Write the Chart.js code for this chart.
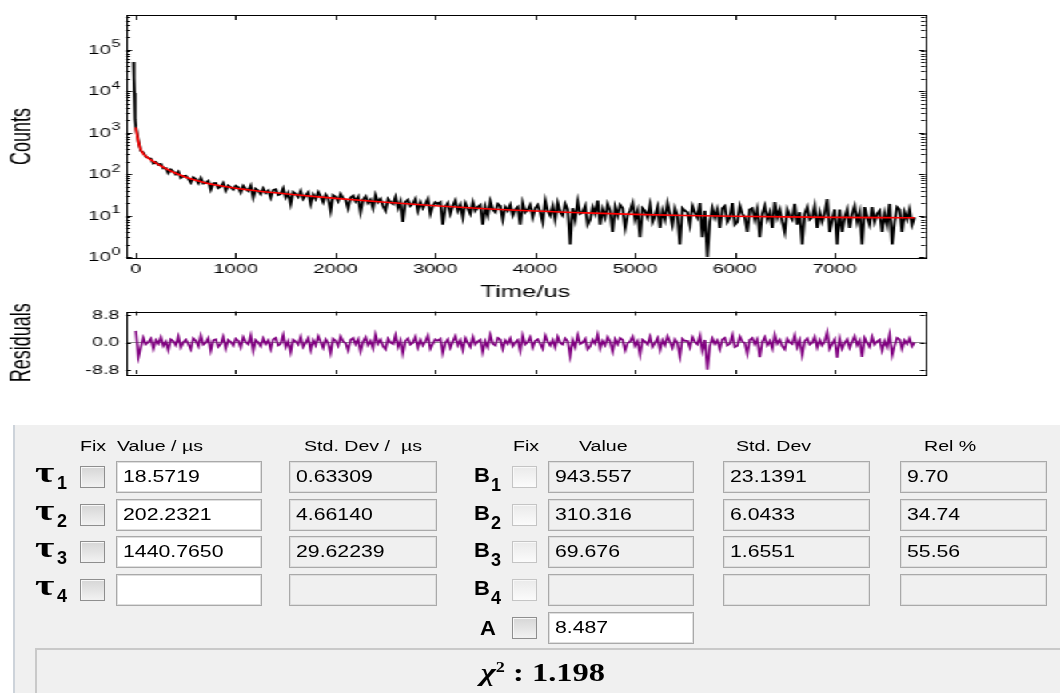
<!DOCTYPE html>
<html>
<head>
<meta charset="utf-8">
<title>Luminescence decay fit</title>
<script src="https://cdn.jsdelivr.net/npm/chart.js@4.4.1/dist/chart.umd.min.js"></script>
<style>
  html, body { margin: 0; padding: 0; }
  body {
    width: 1060px; height: 693px; position: relative; overflow: hidden;
    background: #fff; color: #000;
    font-family: 'Liberation Sans', Arial, sans-serif;
  }
  /* plots are laid out narrow and stretched sideways */
  #plots { position: absolute; left: 0; top: 0; width: 663px; height: 392px;
           transform: scaleX(1.5988); transform-origin: 0 0; }
  #plots canvas { position: absolute; left: 0; }
  #decayChart { top: 0; }
  #residualChart { top: 300px; }

  #fitPanel { position: absolute; left: 13px; top: 425px; width: 1060px; height: 280px;
              background: #f0f0f0; border-left: 2px solid #cdd3da; }
  #fitTable { position: absolute; left: 0; top: 0; width: 1060px; height: 693px; }
  .lbl { position: absolute; white-space: nowrap; }
  .wide { display: inline-block; transform-origin: 0 50%; }
  .hdr { font-size: 14px; line-height: 16px; }
  .hdr .wide { transform: scaleX(1.4); }
  .box { position: absolute; height: 32px; box-sizing: border-box; border: 1px solid #a9a9a9;
         box-shadow: inset 1px 1px 0 #dedede, inset -1px -1px 0 #dedede;
         background: #f0f0f0; font-size: 17px; line-height: 30px; padding-left: 6px; white-space: nowrap; }
  .box.edit { background: #fff; }
  .box .wide { transform: scaleX(1.25); }
  .chk { position: absolute; width: 25px; height: 22px; box-sizing: border-box;
         border: 1px solid #8e8e8e; background: linear-gradient(#d6d6d6, #f2f2f2);
         box-shadow: inset 1px 1px 0 #f8f8f8; }
  .chk.light { border-color: #c4c4c4; background: linear-gradient(#eaeaea, #fbfbfb); }
  .tau { font-family: 'Liberation Serif', 'DejaVu Serif', serif; font-weight: bold;
         font-size: 30px; line-height: 30px; }
  .tau .wide { transform: scaleX(1.4); }
  .sub { font-weight: bold; font-size: 18px; line-height: 18px; }
  .amp { font-weight: bold; font-size: 20px; line-height: 20px; }
  .amp .wide { transform: scaleX(1.1); }
  #chiBox { position: absolute; left: 35px; top: 648px; width: 1040px; height: 60px; box-sizing: border-box;
            border: 2px solid #c9c9c9; border-right: none; border-bottom: none; background: #f0f0f0; }
  #chiText { position: absolute; left: 35px; top: 653px; width: 1016px; text-align: center;
             font-family: 'Liberation Serif', 'DejaVu Serif', serif; font-weight: bold;
             font-size: 25px; line-height: 30px; }
  #chiText .wide { transform: scaleX(1.3); transform-origin: 50% 50%; }
</style>
</head>
<body>
<div id="plots">
  <canvas id="decayChart" width="663" height="302"></canvas>
  <canvas id="residualChart" width="663" height="90"></canvas>
</div>
<div id="fitPanel"></div>
<div id="fitTable"></div>
<div id="chiBox"></div>
<div id="chiText"></div>

<script>
// ---- measured decay (counts per 25 us channel, first channel at t = 0) ----
const channelWidth = 25;
const riseTimes = [-25, -20, -15, -10, -5];
const riseCounts = [50000, 21000, 9000, 4200, 2100];
const decayCounts = [
  1365, 614, 361, 328, 260, 244, 234, 180, 193, 167,
  175, 136, 139, 105, 128, 115, 98, 114, 81, 89,
  91, 77, 62, 83, 75, 60, 80, 59, 61, 68,
  42, 60, 61, 46, 50, 61, 40, 53, 48, 42,
  52,
  48, 36, 52, 44, 39, 52, 27, 44, 40, 33,
  45, 35, 40, 27, 41, 43, 31, 33, 45, 27,
  35, 19, 37, 33, 28, 39, 25, 30, 36, 19,
  32, 25, 37, 29, 21, 32, 26, 13, 31, 28,
  22, 33, 26, 24, 15, 27, 30, 22, 28, 12,
  24, 29, 20, 24, 15, 31, 21, 25, 17, 13,
  25, 21, 19, 28, 15, 22, 7, 21, 24, 17,
  19, 25, 13, 21, 15, 19, 25, 11, 17, 21,
  19, 21, 6, 16, 20, 11, 17, 23, 13, 18,
  9, 20, 15, 11, 21, 13, 16, 18, 6, 16,
  10, 22, 14, 12, 19, 17, 8, 16, 13, 18,
  10, 14, 16, 6, 20, 12, 14, 18, 9, 15,
  18, 12, 7, 23, 13, 10, 17, 8, 20, 12,
  10, 19, 14, 2, 15, 8, 22, 11, 12, 17,
  6, 8, 16, 11, 23, 6, 14, 9, 19, 13,
  4, 16, 10, 18, 15, 5, 10, 13, 20, 8,
  13, 3, 15, 13, 9, 18, 7, 10, 16, 5,
  13, 8, 20, 11, 6, 15, 10, 2, 15, 13,
  12, 6, 17, 12, 9, 20, 3, 13, 1, 7,
  15, 9, 14, 5, 15, 17, 7, 9, 20, 6,
  7, 17, 11, 9, 4, 14, 15, 8, 14, 3,
  11, 17, 8, 12, 5, 21, 9, 14, 7, 4,
  14, 10, 8, 19, 6, 12, 2, 11, 16, 8,
  9, 17, 5, 12, 7, 11, 25, 4, 8, 14,
  2, 14, 4, 9, 14, 5, 11, 17, 7, 12,
  2, 16, 9, 6, 16, 7, 11, 13, 4, 11,
  6, 19, 2, 7, 16, 14, 4, 12, 8, 14,
  6, 9
];

// ---- tri-exponential fit curve ----
const fitTimes = [0, 5, 10, 15, 20, 30, 40, 50, 60, 80, 100, 125, 150, 200, 250, 300, 400, 500, 600, 700,
  800, 1000, 1200, 1400, 1600, 1800, 2000, 2500, 3000, 3500, 4000, 4500, 5000, 5500, 6000, 6500, 7000, 7500, 7800];
const fitCounts = [1332, 1101.5, 923.8, 786.3, 679.7, 531.8, 440.4, 382.0, 343.2, 296.0, 267.1, 240.7, 219.4,
  184.6, 157.2, 135.5, 104.2, 83.9, 70.4, 61.1, 54.4, 45.5, 39.6, 35.2, 31.6, 28.5, 25.9, 20.8, 17.2, 14.6,
  12.8, 11.6, 10.66, 10.02, 9.57, 9.25, 9.03, 8.87, 8.8];

// ---- weighted residuals, same channels as decayCounts ----
const residuals = [
  3.8, -4.6, -1.4, 1.6, -0.5, 0.3, 1.3, -1.9, 0.8, -0.3,
  1.8, -1.0, 0.4, -2.4, 1.1, 0.5, -0.8, 2.0, -1.5, 0.1,
  1.0, -0.4, -2.1, 1.4, 0.6, -1.1, 2.3, -0.6, 0.0, 1.5,
  -2.5, 0.8, 1.1, -1.3, -0.4, 1.9, -1.8, 0.9, 0.3, -0.9,
  1.3,
  0.6, -1.5, 1.8, 0.3, -0.5, 2.3, -2.6, 0.9, 0.1, -1.1,
  1.4, -0.4, 0.8, -2.0, 1.1, 1.6, -0.9, -0.3, 2.5, -1.4,
  0.5, -3.0, 1.0, 0.4, -0.6, 1.9, -1.3, 0.0, 1.5, -2.3,
  0.8, -0.8, 2.1, 0.3, -1.6, 1.1, -0.1, -3.3, 1.3, 0.6,
  -1.0, 2.0, 0.4, -0.1, -2.4, 0.9, 1.5, -0.5, 1.1, -2.8,
  0.3, 1.8, -0.8, 0.6, -1.8, 2.6, -0.3, 1.0, -1.1, -2.1,
  1.3, 0.1, -0.4, 2.4, -1.4, 0.8, -3.5, 0.5, 1.4, -0.6,
  0.0, 1.9, -1.5, 0.9, -0.9, 0.4, 2.3, -1.9, -0.3, 1.1,
  0.6, 1.3, -3.3, -0.1, 1.1, -1.6, 0.3, 2.1, -0.8, 0.8,
  -2.3, 1.5, 0.0, -1.3, 1.9, -0.6, 0.4, 1.0, -3.0, 0.5,
  -1.4, 2.5, -0.3, -0.9, 1.6, 1.1, -2.0, 0.8, -0.4, 1.4,
  -1.1, 0.1, 0.9, -2.6, 2.3, -0.5, 0.3, 1.8, -1.5, 0.6,
  1.1, -0.3, -1.9, 2.3, 0.4, -0.9, 0.9, -1.5, 1.9, 0.0,
  -0.6, 1.4, 0.5, -4.2, 0.8, -1.4, 2.4, -0.4, 0.1, 1.3,
  -2.1, -1.1, 1.0, -0.3, 2.6, -1.8, 0.6, -0.8, 1.8, 0.3,
  -2.8, 1.1, -0.5, 1.5, 0.9, -2.4, -0.1, 0.4, 2.0, -1.0,
  0.5, -3.8, 1.0, 0.4, -0.6, 1.9, -1.3, 0.0, 1.5, -2.3,
  0.8, -0.8, 2.1, 0.3, -1.6, 1.1, -0.1, -4.3, 1.3, 0.6,
  0.6, -1.5, 1.8, 0.3, -0.5, 2.3, -2.6, 0.9, -8.6, -1.1,
  1.4, -0.4, 0.8, -2.0, 1.1, 1.6, -0.9, -0.3, 2.5, -1.4,
  -1.0, 2.0, 0.4, -0.1, -3.6, 0.9, 1.5, -0.5, 1.1, -4.6,
  0.3, 1.8, -0.8, 0.6, -1.8, 2.6, -0.3, 1.0, -1.1, -2.1,
  1.3, 0.1, -0.4, 2.4, -1.4, 0.8, -3.9, 0.5, 1.4, -0.6,
  0.0, 1.9, -1.5, 0.9, -0.9, 0.4, 3.4, -1.9, -0.3, 1.1,
  -4.8, 1.3, -1.9, -0.1, 1.1, -1.6, 0.3, 2.1, -0.8, 0.8,
  -4.5, 1.5, 0.0, -1.3, 1.9, -0.6, 0.4, 1.0, -2.5, 0.5,
  -1.4, 2.5, -4.0, -0.9, 1.6, 1.1, -2.0, 0.8, -0.4, 1.4,
  -1.1, 0.1
];

// ---- axis ticks ----
const timeTicks = [0, 1000, 2000, 3000, 4000, 5000, 6000, 7000];
const countDecades = [1, 10, 100, 1000, 10000, 100000];
const residualTicks = [-8.8, 0, 8.8];

// ---- fit parameters ----
const tauValues = ['18.5719', '202.2321', '1440.7650', ''];
const tauStdDev = ['0.63309', '4.66140', '29.62239', ''];
const ampValues = ['943.557', '310.316', '69.676', ''];
const ampStdDev = ['23.1391', '6.0433', '1.6551', ''];
const relPercent = ['9.70', '34.74', '55.56', ''];
const offsetValue = '8.487';
const chiSquare = '1.198';

// ---------------------------------------------------------------------------
const FONT = "'Liberation Sans', Arial, sans-serif";
const X_MIN = -100, X_MAX = 7905;
const Y_MIN = 0.946, Y_MAX = 6.8e5;
const AXIS_W = 78.8;          // left axis band (canvas px)
const PAD_R = 663 - 578.56;   // space right of the plot frame

// inward tick marks plus the box around the plot area
const axisFrame = {
  id: 'axisFrame',
  afterDatasetsDraw(chart, args, opts) {
    const { ctx, chartArea: a, scales } = chart;
    ctx.save();
    ctx.strokeStyle = '#000';
    ctx.lineWidth = 1;
    ctx.beginPath();
    opts.xTicks.forEach(v => {
      const px = Math.round(scales.x.getPixelForValue(v)) + 0.5;
      ctx.moveTo(px, a.bottom); ctx.lineTo(px, a.bottom - opts.xLen);
      ctx.moveTo(px, a.top); ctx.lineTo(px, a.top + opts.xLen);
    });
    opts.yTicks.forEach(t => {
      const py = Math.round(scales.y.getPixelForValue(t.value)) + 0.5;
      ctx.moveTo(a.left, py); ctx.lineTo(a.left + t.len, py);
      ctx.moveTo(a.right, py); ctx.lineTo(a.right - t.len, py);
    });
    ctx.stroke();
    ctx.strokeRect(Math.round(a.left) + 0.5, Math.round(a.top) + 0.5,
                   Math.round(a.right - a.left), Math.round(a.bottom - a.top));
    ctx.restore();
  }
};

// "10" with a raised exponent beside each decade of the count axis
const powerLabels = {
  id: 'powerLabels',
  afterDraw(chart) {
    const { ctx, chartArea: a, scales } = chart;
    ctx.save();
    ctx.fillStyle = '#000';
    ctx.textAlign = 'right';
    ctx.textBaseline = 'middle';
    countDecades.forEach(v => {
      const y = scales.y.getPixelForValue(v);
      const exp = String(Math.round(Math.log10(v)));
      ctx.font = '10px ' + FONT;
      const ew = ctx.measureText(exp).width;
      const right = a.left - 3.5;
      ctx.fillText(exp, right, y - 5);
      ctx.font = '13px ' + FONT;
      ctx.fillText('10', right - ew - 0.3, y + 0.5);
    });
    ctx.restore();
  }
};

const logTickMarks = [];
countDecades.forEach(d => {
  for (let m = 1; m <= 9; m++) {
    if (m * d <= Y_MAX) logTickMarks.push({ value: m * d, len: m === 1 ? 3.8 : 2.4 });
  }
});

const channelTimes = decayCounts.map((c, i) => i * channelWidth);
const decayPoints = riseTimes.map((t, i) => ({ x: t, y: riseCounts[i] }))
  .concat(channelTimes.map((t, i) => ({ x: t, y: decayCounts[i] })));
const fitPoints = fitTimes.map((t, i) => ({ x: t, y: fitCounts[i] }));
const residualPoints = channelTimes.map((t, i) => ({ x: t, y: residuals[i] }));

new Chart(document.getElementById('decayChart'), {
  type: 'scatter',
  data: {
    datasets: [{
      label: 'Fit',
      data: fitPoints,
      showLine: true,
      borderColor: '#ff0000',
      borderWidth: 1.6,
      pointRadius: 0,
      cubicInterpolationMode: 'monotone'
    }, {
      label: 'Counts',
      data: decayPoints,
      showLine: true,
      borderColor: '#000',
      borderWidth: 1.8,
      pointRadius: 0
    }]
  },
  options: {
    responsive: false,
    animation: false,
    devicePixelRatio: 1,
    layout: { padding: { left: 0, right: PAD_R, top: 15, bottom: 0 } },
    plugins: {
      legend: { display: false },
      tooltip: { enabled: false },
      axisFrame: { xTicks: timeTicks, xLen: 5, yTicks: logTickMarks }
    },
    scales: {
      x: {
        type: 'linear',
        min: X_MIN,
        max: X_MAX,
        grid: { display: false, drawTicks: false },
        border: { display: false },
        afterBuildTicks: s => { s.ticks = timeTicks.map(v => ({ value: v })); },
        afterFit: s => { s.height = 44; },
        ticks: {
          color: '#000', font: { family: FONT, size: 12.5 }, padding: 4, maxRotation: 0, autoSkip: false,
          callback: v => String(v)
        },
        title: { display: true, text: 'Time/us', color: '#000', font: { family: FONT, size: 16 }, padding: 0 }
      },
      y: {
        type: 'logarithmic',
        min: Y_MIN,
        max: Y_MAX,
        grid: { display: false, drawTicks: false },
        border: { display: false },
        afterBuildTicks: s => { s.ticks = countDecades.map(v => ({ value: v })); },
        afterFit: s => { s.width = AXIS_W; },
        ticks: { display: false },
        title: { display: true, text: 'Counts', color: '#000', font: { family: FONT, size: 18 }, padding: { top: 3, bottom: 0 } }
      }
    }
  },
  plugins: [axisFrame, powerLabels]
});

new Chart(document.getElementById('residualChart'), {
  type: 'scatter',
  data: {
    datasets: [{
      label: 'Residuals',
      data: residualPoints,
      showLine: true,
      borderColor: '#800080',
      borderWidth: 1.6,
      pointRadius: 0
    }]
  },
  options: {
    responsive: false,
    animation: false,
    devicePixelRatio: 1,
    layout: { padding: { left: 0, right: PAD_R, top: 7, bottom: 0 } },
    plugins: {
      legend: { display: false },
      tooltip: { enabled: false },
      axisFrame: { xTicks: timeTicks, xLen: 4, yTicks: residualTicks.map(v => ({ value: v, len: 3.1 })) }
    },
    scales: {
      x: {
        type: 'linear',
        min: X_MIN,
        max: X_MAX,
        grid: { display: false, drawTicks: false },
        border: { display: false },
        ticks: { display: false },
        afterFit: s => { s.height = 16; }
      },
      y: {
        type: 'linear',
        min: -10,
        max: 10,
        border: { display: false },
        grid: {
          drawTicks: false,
          color: c => (c.tick && c.tick.value === 0 ? '#8a8a8a' : 'rgba(0,0,0,0)')
        },
        afterBuildTicks: s => { s.ticks = residualTicks.map(v => ({ value: v })); },
        afterFit: s => { s.width = AXIS_W; },
        ticks: {
          color: '#000',
          font: { family: FONT, size: 12.5 },
          padding: 4,
          autoSkip: false,
          callback: v => v.toFixed(1)
        },
        title: { display: true, text: 'Residuals', color: '#000', font: { family: FONT, size: 18 }, padding: { top: 3, bottom: 0 } }
      }
    }
  },
  plugins: [axisFrame]
});

// ---- parameter sheet ----
const sheet = document.getElementById('fitTable');
function place(cls, x, y, w, html) {
  const el = document.createElement('div');
  el.className = cls;
  el.style.left = x + 'px';
  el.style.top = y + 'px';
  if (w) el.style.width = w + 'px';
  if (html !== undefined) el.innerHTML = html;
  sheet.appendChild(el);
  return el;
}
const wide = s => '<span class="wide">' + s + '</span>';

const rowTops = [461, 499, 536, 574];
const offsetTop = 612;

place('lbl hdr', 80, 438, 0, wide('Fix'));
place('lbl hdr', 117, 438, 0, wide('Value / \u00b5s'));
place('lbl hdr', 304, 438, 0, wide('Std. Dev / &nbsp;\u00b5s'));
place('lbl hdr', 513, 438, 0, wide('Fix'));
place('lbl hdr', 579, 438, 0, wide('Value'));
place('lbl hdr', 736, 438, 0, wide('Std. Dev'));
place('lbl hdr', 924, 438, 0, wide('Rel %'));

rowTops.forEach((top, i) => {
  const base = top + 21;
  place('lbl tau', 35, base - 25, 0, wide('\u03c4'));
  place('lbl sub', 57, base - 8, 0, String(i + 1));
  place('chk', 80, top + 5);
  place('box edit', 116, top, 146, wide(tauValues[i]));
  place('box', 289, top, 148, wide(tauStdDev[i]));

  place('lbl amp', 474, base - 17, 0, wide('B'));
  place('lbl sub', 491, base - 6, 0, String(i + 1));
  place('chk light', 512, top + 5);
  place('box', 548, top, 146, wide(ampValues[i]));
  place('box', 723, top, 147, wide(ampStdDev[i]));
  place('box', 900, top, 147, wide(relPercent[i]));
});

place('lbl amp', 480, offsetTop + 6, 0, wide('A'));
place('chk', 512, offsetTop + 5);
place('box edit', 548, offsetTop, 146, wide(offsetValue));

document.getElementById('chiText').innerHTML =
  wide('<i>\u03c7</i><sup style="font-size:14px">2</sup> : ' + chiSquare);
</script>
</body>
</html>
